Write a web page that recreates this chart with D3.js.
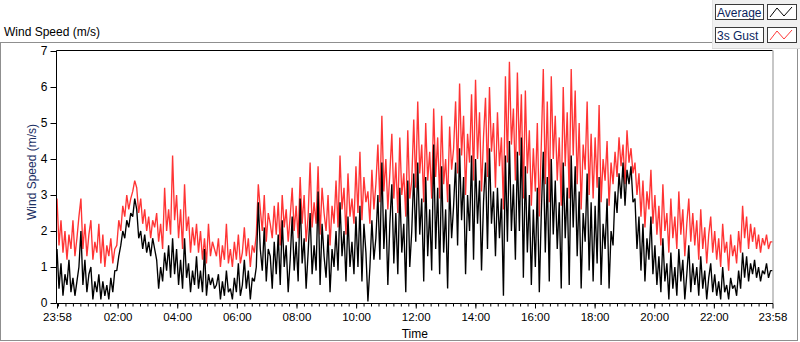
<!DOCTYPE html>
<html><head><meta charset="utf-8">
<script src="https://cdn.jsdelivr.net/npm/d3@7"></script>
<style>
body{margin:0;background:#fff}
svg{display:block;font-family:"Liberation Sans",Arial,sans-serif}
</style>
</head><body>
<svg id="c" width="800" height="342"></svg>
<script>
// ---- data (~4 minute steps, 23:58 -> 23:58) ----
const seriesNames = ["Average", "3s Gust"];
const gust = [
2.9,1.6,2.3,1.4,2.0,1.2,1.9,1.5,2.3,1.3,
1.8,2.4,2.9,1.5,2.2,1.3,1.9,2.3,1.2,1.7,
1.4,2.2,1.1,1.9,1.0,1.6,1.3,1.8,1.1,1.5,
1.6,2.3,2.0,2.7,2.4,3.0,2.6,2.9,3.1,3.4,
3.2,2.5,2.9,2.2,2.6,2.0,2.4,1.8,2.3,2.1,
2.5,1.7,2.2,1.5,3.2,2.0,2.6,1.9,4.1,2.3,
3.0,1.8,2.6,1.5,3.3,2.0,2.4,1.4,2.1,1.6,
2.2,1.4,2.0,1.2,1.8,1.1,2.2,1.3,1.7,1.5,
1.3,1.8,1.0,1.6,1.2,2.2,1.1,1.5,1.0,1.7,
1.2,1.9,1.1,1.4,2.1,1.3,1.8,1.0,1.6,1.4,
1.9,3.3,2.6,2.0,3.0,1.7,2.5,2.2,1.8,2.7,
1.9,2.8,1.6,3.0,2.1,2.6,1.7,2.4,3.2,2.0,
2.7,1.8,3.5,2.2,3.0,1.7,2.4,3.9,2.1,2.8,
2.2,3.8,1.9,3.2,2.5,2.0,3.0,1.6,2.7,2.2,
3.4,2.1,4.1,2.6,3.2,1.9,3.6,2.4,2.9,2.2,
3.8,2.5,4.2,2.3,3.5,2.8,3.1,2.2,3.7,2.6,
3.3,4.4,2.8,5.2,3.1,4.0,2.6,3.6,4.7,2.9,
3.9,2.5,4.6,3.0,3.6,2.4,4.8,2.9,3.4,5.1,
3.2,5.6,3.6,4.4,2.8,5.0,3.4,4.2,2.9,5.4,
3.5,4.6,2.9,5.2,3.3,4.0,2.8,4.9,3.7,4.3,
5.6,3.6,6.1,4.1,5.2,3.0,4.7,3.9,5.8,3.4,
6.2,4.0,5.3,3.1,4.6,5.7,3.5,6.0,4.2,5.0,
3.2,5.3,3.8,4.6,2.6,6.3,3.9,6.7,4.4,5.4,
3.4,6.4,4.1,5.8,2.9,5.9,3.6,4.8,2.7,4.3,
3.1,5.0,2.4,4.4,6.5,3.3,5.6,2.8,6.3,4.0,
5.2,3.4,4.6,2.7,6.0,3.8,5.3,2.9,6.5,4.1,
5.9,3.3,5.0,2.6,4.4,3.7,5.6,3.0,4.7,2.9,
4.6,3.2,5.5,2.8,4.0,3.4,4.5,2.7,3.9,3.3,
4.2,3.5,4.6,3.8,4.4,3.3,4.8,3.9,4.3,3.6,
3.9,3.0,3.6,2.4,3.4,2.1,3.1,2.6,3.7,2.2,
3.0,1.9,2.7,1.6,3.3,2.0,2.5,1.4,2.9,1.8,
2.4,1.5,3.1,1.9,2.6,1.3,2.2,2.9,1.7,2.5,
1.6,2.3,1.2,2.6,1.5,2.1,1.1,1.9,2.4,1.4,
2.0,1.2,1.8,1.0,2.2,1.4,1.7,0.9,1.9,1.3,
1.6,1.1,2.0,1.4,2.7,1.8,2.4,1.5,2.2,1.7,
2.1,1.5,1.9,1.4,1.8,1.6,1.9,1.5,1.7,1.7];
const average = [
1.5,0.4,1.1,0.2,0.8,0.5,1.2,0.3,0.7,0.2,
0.6,1.0,2.0,0.5,1.2,0.3,0.8,1.0,0.1,0.6,
0.3,0.8,0.1,0.6,0.2,0.5,0.1,0.7,0.3,0.9,
0.9,1.3,1.6,2.0,1.8,2.3,2.1,2.5,2.4,2.9,
2.6,1.8,2.0,1.5,1.9,1.4,1.7,1.3,1.8,1.5,
1.2,0.4,1.0,0.6,1.4,0.9,1.6,0.7,1.8,0.8,
1.5,0.5,1.2,0.4,1.8,0.7,1.1,0.3,0.9,0.5,
1.3,0.4,0.9,0.3,1.5,0.2,0.8,0.5,0.7,0.4,
0.5,0.8,0.1,0.6,0.2,0.9,0.3,0.4,0.1,0.7,
0.3,1.1,0.2,0.5,1.2,0.4,0.9,0.1,0.7,0.6,
1.0,2.8,1.5,0.9,2.1,0.6,1.5,1.3,0.4,1.7,
0.8,1.9,0.5,2.3,1.0,1.6,0.3,1.2,2.4,0.9,
1.7,0.6,2.9,1.1,1.8,0.4,1.4,2.5,0.8,1.6,
0.9,3.1,0.5,2.2,1.3,0.7,1.9,0.3,1.5,1.0,
2.0,0.9,2.8,1.3,2.0,0.6,2.4,1.0,1.7,0.8,
2.4,1.0,2.7,0.6,2.2,1.4,0.04,1.0,2.3,1.2,
1.8,3.0,1.2,3.9,1.5,2.6,0.5,2.2,3.3,1.1,
2.5,0.8,3.2,1.4,2.2,0.3,3.4,1.0,2.0,3.6,
1.7,3.9,1.9,2.9,0.6,3.5,1.3,2.6,0.9,4.4,
1.5,3.2,0.8,3.8,1.4,2.6,0.4,3.3,1.8,2.7,
3.9,1.6,4.3,2.3,3.5,0.8,3.0,2.0,4.1,1.2,
4.0,2.2,3.4,0.9,2.8,3.9,1.5,4.3,2.2,3.1,
1.3,3.2,1.8,2.9,0.2,4.1,1.7,4.5,2.0,3.3,
1.2,4.2,2.0,4.6,0.7,3.8,1.4,3.0,0.5,2.6,
1.0,3.2,0.3,2.5,4.2,1.4,3.5,0.6,4.0,1.9,
3.4,1.5,2.8,0.4,3.9,1.8,3.2,0.5,4.1,2.1,
3.8,1.3,3.1,0.4,2.5,1.7,3.6,0.9,2.8,0.6,
2.7,1.1,3.5,0.5,2.2,1.5,2.9,0.4,2.0,1.6,
3.1,2.5,3.6,2.9,3.9,2.7,3.7,3.3,3.8,2.8,
2.9,1.5,2.4,0.9,2.2,0.6,1.8,1.2,2.4,0.8,
1.6,0.5,1.3,0.3,1.8,0.6,1.1,0.1,1.4,0.4,
1.0,0.2,1.5,0.6,1.2,0.1,0.8,1.6,0.3,1.1,
0.5,1.0,0.2,1.3,0.4,0.9,0.1,0.7,1.1,0.3,
0.8,0.2,0.6,0.1,1.0,0.3,0.5,0.1,0.7,0.4,
0.5,0.2,0.9,0.4,1.4,0.7,1.3,0.6,1.1,0.8,
1.2,0.7,1.0,0.6,0.9,0.8,1.1,0.7,0.9,0.9];
const yTickValues = [0,1,2,3,4,5,6,7];
const xTickLabels = ["23:58","02:00","04:00","06:00","08:00","10:00","12:00","14:00","16:00","18:00","20:00","22:00","23:58"];
const yTitle = "Wind Speed (m/s)";
const xTitle = "Time";

// ---- layout ----
const svg = d3.select("#c");
const L = 57, R = 772.5, T = 51, B = 303;
const start = new Date(2020, 0, 1, 23, 58);
const end = new Date(2020, 0, 2, 23, 58);
const x = d3.scaleTime().domain([start, end]).range([L, R]);
const y = d3.scaleLinear().domain([0, 7]).range([B, T]);
const stepMs = (end - start) / (gust.length - 1);
const tAt = i => new Date(+start + i * stepMs);

// outer frame
svg.append("rect").attr("x",0.5).attr("y",42.5).attr("width",797).attr("height",298)
  .attr("fill","#fff").attr("stroke","#8f8f8f");

// top label
svg.append("text").attr("x",4).attr("y",36).attr("font-size",12).attr("fill","#000").text(yTitle);

// legend panel
svg.append("rect").attr("x",712).attr("y",0).attr("width",88).attr("height",49).attr("fill","#f0f0f0");
svg.append("line").attr("x1",712.5).attr("x2",712.5).attr("y1",0).attr("y2",49).attr("stroke","#e2e2e2");
svg.append("line").attr("x1",712).attr("x2",800).attr("y1",48.5).attr("y2",48.5).attr("stroke","#d8d8d8");
const legColors = ["#000", "#ff3a3a"];
seriesNames.forEach((n, k) => {
  const yy = 4 + k * 23;
  svg.append("rect").attr("x",715.5).attr("y",yy+0.5).attr("width",48).attr("height",15)
    .attr("fill","#fff").attr("stroke","#3a3a3a");
  svg.append("text").attr("x",717).attr("y",yy+12.5).attr("font-size",12).attr("fill","#0b1f5e").text(n);
  svg.append("rect").attr("x",767.5).attr("y",yy+0.5).attr("width",29).attr("height",15)
    .attr("fill","#fff").attr("stroke","#3a3a3a");
  svg.append("polyline").attr("points",[[770,yy+13],[777,yy+4],[784,yy+12],[792,yy+3]].map(p=>p.join(",")).join(" "))
    .attr("fill","none").attr("stroke",legColors[k]).attr("stroke-width",1);
});

// plot background
svg.append("rect").attr("x",L).attr("y",T).attr("width",R-L).attr("height",B-T).attr("fill","#fff");

// lines
const line = d3.line().x((d,i)=>x(tAt(i))).y(d=>y(d));
svg.append("path").datum(gust).attr("d",line).attr("fill","none")
  .attr("stroke","#ff3434").attr("stroke-width",1.35).attr("stroke-linejoin","bevel");
svg.append("path").datum(average).attr("d",line).attr("fill","none")
  .attr("stroke","#000").attr("stroke-width",1.35).attr("stroke-linejoin","bevel");

// plot border
svg.append("line").attr("x1",L-0.5).attr("x2",R).attr("y1",T-0.5).attr("y2",T-0.5).attr("stroke","#000");
svg.append("line").attr("x1",L-0.5).attr("x2",L-0.5).attr("y1",T-0.5).attr("y2",B+0.5).attr("stroke","#000");
svg.append("line").attr("x1",R+0.5).attr("x2",R+0.5).attr("y1",T-0.5).attr("y2",B+0.5).attr("stroke","#8f8f8f");
svg.append("line").attr("x1",L-0.5).attr("x2",R+0.5).attr("y1",B+0.5).attr("y2",B+0.5).attr("stroke","#000");

// y axis
const yAx = svg.append("g").attr("transform",`translate(${L-0.5},0)`)
  .call(d3.axisLeft(y).tickValues(yTickValues).tickSize(6).tickPadding(3).tickFormat(d3.format("d")));
yAx.select(".domain").remove();
yAx.selectAll("text").attr("font-size",12).attr("font-family","Liberation Sans, Arial, sans-serif").attr("fill","#000");
yAx.selectAll("line").attr("stroke","#000");

// x axis
const majorDates = xTickLabels.map((s, i) => {
  const [h, m] = s.split(":").map(Number);
  return new Date(2020, 0, i === 0 ? 1 : 2, h, m);
});
const fmt = d3.timeFormat("%H:%M");
const minorDates = d3.timeMinute.every(15).range(start, end);
const xMinor = svg.append("g").attr("transform",`translate(0,${B+0.5})`)
  .call(d3.axisBottom(x).tickValues(minorDates).tickSize(3).tickFormat(""));
xMinor.select(".domain").remove();
xMinor.selectAll("line").attr("stroke","#000");
const xAx = svg.append("g").attr("transform",`translate(0,${B+0.5})`)
  .call(d3.axisBottom(x).tickValues(majorDates).tickSize(5).tickPadding(4).tickFormat(fmt));
xAx.select(".domain").remove();
xAx.selectAll("line").attr("stroke","#000");
xAx.selectAll("text").attr("font-size",11.5).attr("font-family","Liberation Sans, Arial, sans-serif").attr("fill","#000");

// axis titles
svg.append("text").attr("x",(L+R)/2).attr("y",338).attr("text-anchor","middle")
  .attr("font-size",12).attr("fill","#000").text(xTitle);
svg.append("text").attr("transform","translate(36,172) rotate(-90)").attr("text-anchor","middle")
  .attr("font-size",12).attr("fill","#1b2f63").text(yTitle);
</script>
</body></html>
